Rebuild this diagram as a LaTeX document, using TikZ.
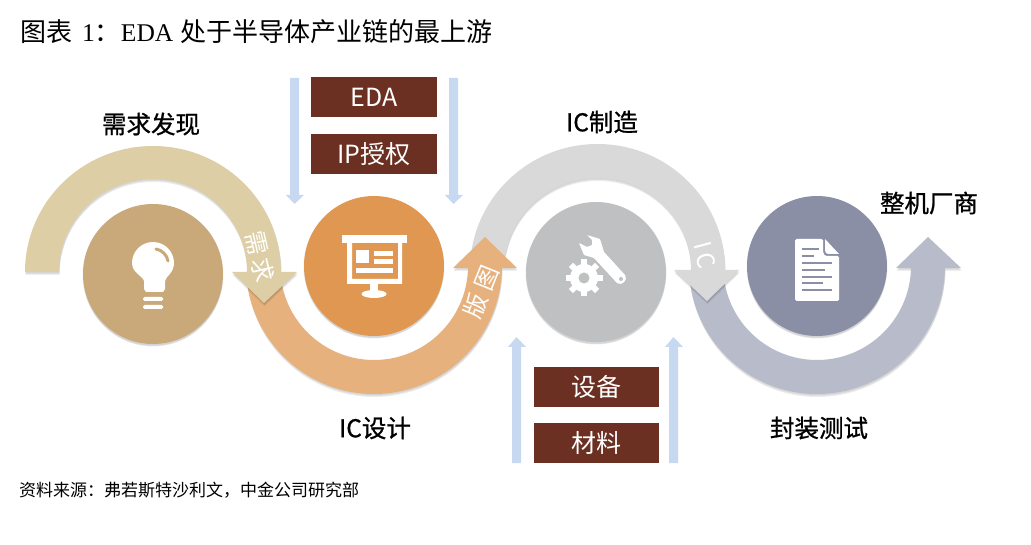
\documentclass[tikz,border=0pt]{standalone}
\usepackage{fontspec}
\setmainfont{Noto Sans CJK SC}
\newfontfamily\serfont{Liberation Serif}
\newfontfamily\labfont[FakeBold=0.9]{Noto Sans CJK SC}
\definecolor{cA}{HTML}{C9A97A}\definecolor{aA}{HTML}{DDCEA6}
\definecolor{cB}{HTML}{E09752}\definecolor{aB}{HTML}{E6B17C}
\definecolor{cC}{HTML}{BFC0C2}\definecolor{aC}{HTML}{D9D9D9}
\definecolor{cD}{HTML}{8A8FA5}\definecolor{aD}{HTML}{B7BBCA}
\definecolor{boxc}{HTML}{6B3021}\definecolor{bluea}{HTML}{C6D9F1}
\tikzset{
  disc/.style={circle,minimum size=140pt,inner sep=0pt,fill=#1},
  boxn/.style={fill=boxc,text=white,minimum width=126pt,minimum height=40pt,inner sep=0pt,font=\fontsize{25}{25}\selectfont},
  lab/.style={font=\labfont\fontsize{24.5}{25}\selectfont,text=black},
  onarc/.style={text=white,font=\fontsize{24}{24}\selectfont,inner sep=0pt},
  flatarrow/.style={fill=bluea},
}
\newcommand\softshape[2]{%
  \fill[black,opacity=.05,yshift=-1pt,xshift=.5pt] #2;
  \fill[black,opacity=.06,yshift=-2pt,xshift=.5pt] #2;
  \fill[black,opacity=.07,yshift=-3pt,xshift=.5pt] #2;
  \fill[#1] #2;}
\newcommand\softdisc[3]{%
  \fill[black,opacity=.05] (#1,#2+1) circle[radius=70.5pt];
  \fill[black,opacity=.06] (#1,#2+2) circle[radius=70pt];
  \fill[black,opacity=.07] (#1,#2+3) circle[radius=69.5pt];
}
\begin{document}
\begin{tikzpicture}[x=1pt,y=-1pt]
\useasboundingbox (0,0) rectangle (1031,545);
% title and source
\node[anchor=west,inner sep=0pt,font=\fontsize{26}{26}\selectfont] (title) at (20,32)
  {图表\hspace{10pt}{\serfont\fontsize{25.5}{26}\selectfont 1}：{\serfont\fontsize{25.5}{26}\selectfont EDA}\hspace{7pt}处于半导体产业链的最上游};
\node[anchor=west,inner sep=0pt,font=\fontsize{17}{17}\selectfont] (src) at (19,490)
  {资料来源：弗若斯特沙利文，中金公司研究部};
% arcs, back to front
\softshape{aD}{(690.2,283.8) arc[start angle=188,end angle=360,radius=128pt] -- (945,268) -- (961,268) -- (928,237) -- (896,268) -- (911,268) -- (911,266) arc[start angle=0,end angle=-172,radius=94pt] -- cycle}
\softshape{aC}{(470,270) arc[start angle=180,end angle=0,x radius=127.5pt,y radius=126pt] -- (739,270) -- (707,301) -- (674,270) -- (691,270) arc[start angle=0,end angle=170,x radius=93.5pt,y radius=92pt] -- cycle}
\softshape{aB}{(247.2,283.8) arc[start angle=188,end angle=360,radius=128pt] -- (502,268) -- (517,268) -- (485,237) -- (453,268) -- (468,268) -- (468,266) arc[start angle=0,end angle=-172,radius=94pt] -- cycle}
\softshape{aA}{(25,272) arc[start angle=180,end angle=0,x radius=128pt,y radius=126pt] -- (297,272) -- (264,303) -- (232,272) -- (247,272) arc[start angle=0,end angle=180,x radius=94pt,y radius=93pt] -- cycle}
% discs
\softdisc{153}{274}{cA}\node[disc=cA] (c1) at (153,274) {};
\softdisc{374}{266}{cB}\node[disc=cB] (c2) at (374,266) {};
\softdisc{596}{272}{cC}\node[disc=cC] (c3) at (596,272) {};
\softdisc{817}{266}{cD}\node[disc=cD] (c4) at (817,266) {};
% bulb icon
\fill[white] (144,281) .. controls (143,276) and (132,273) .. (132,263)
  arc[start angle=180,end angle=0,radius=21pt]
  .. controls (174,273) and (166,276) .. (165,281) -- (165,289) -- (163,292) -- (146,292) -- (144,289) -- cycle;
\draw[cA,line width=3pt,line cap=round] (156,249) .. controls (162,250) and (167,255) .. (168,261);
\fill[white,rounded corners=1.5pt] (143,297) rectangle (163,301);
\fill[white,rounded corners=1.5pt] (143,305) rectangle (163,309);
% presentation icon
\fill[white] (342,235) rectangle (407,243);
\fill[white,even odd rule] (347,243) rectangle (402,284) (352,243) rectangle (398,279);
\fill[white] (356,250) rectangle (369,263);
\fill[white] (374,251) rectangle (393,256);
\fill[white] (374,259) rectangle (393,264);
\fill[white] (356,268) rectangle (393,273);
\fill[white] (370,284) rectangle (378,291);
\fill[white] (374,294) ellipse[x radius=12.5pt,y radius=4pt];
% tools icon
\fill[white,even odd rule,rounded corners=.6pt] (587,235) -- (600,239) -- (604,252) -- (625,275)
  .. controls (628,280) and (622,286) .. (617,283) -- (594,258) -- (584,255) -- (579,243) -- (587,247) -- (592,245) -- (592,240) -- cycle;
\fill[cC] (621,279) circle[radius=2pt];
\foreach \a in {0,45,...,315}{
  \fill[white,rotate around={\a:(584,278)}] (581,259.5) rectangle (587,268);
}
\fill[white] (584,278) circle[radius=14pt];
\fill[cC] (584,278) circle[radius=5.5pt];
% document icon
\fill[white,rounded corners=1.5pt] (795,239) -- (823,239) -- (823,250) .. controls (823,254) and (825,256) .. (828,256) -- (839,256) -- (839,301) -- (795,301) -- cycle;
\fill[white] (825,239) -- (839,254) -- (828,254) .. controls (826,254) and (825,252) .. (825,250) -- cycle;
\foreach \y/\e in {249/819,256/814,263/832,270/825,277/832,283/823,290/832}{
  \fill[cD] (802,\y-1) rectangle (\e,\y+1);
}
% blue arrows
\fill[flatarrow] (290,78) -- (299,78) -- (299,195) -- (304,195) -- (294.5,204) -- (286,195) -- (290,195) -- cycle;
\fill[flatarrow] (449,78) -- (458,78) -- (458,195) -- (463,195) -- (453.5,204) -- (445,195) -- (449,195) -- cycle;
\fill[flatarrow] (512,463) -- (521,463) -- (521,347) -- (526,347) -- (516.5,337) -- (508,347) -- (512,347) -- cycle;
\fill[flatarrow] (669,463) -- (678,463) -- (678,347) -- (683,347) -- (673.5,337) -- (665,347) -- (669,347) -- cycle;
% boxes
\node[boxn] (eda) at (374,97) {EDA};
\node[boxn] (ip) at (374,154) {IP授权};
\node[boxn,minimum width=125pt] (dev) at (596.5,387) {设备};
\node[boxn,minimum width=125pt] (mat) at (596.5,443) {材料};
% labels
\node[lab] (l1) at (151,124) {需求发现};
\node[lab] (l2) at (375,428) {IC设计};
\node[lab] (l3) at (602,122) {IC制造};
\node[lab] (l4) at (819,428) {封装测试};
\node[lab] (l5) at (929,203) {整机厂商};
% on-arc text
\node[onarc,rotate=-77] (t1) at (260,256.5) {需\hspace{3pt}求};
\node[onarc,rotate=68] (t2) at (481,292) {版\hspace{7pt}图};
\node[onarc,rotate=-75] (t3) at (705,255) {I\hspace{4pt}C};
\end{tikzpicture}
\end{document}
